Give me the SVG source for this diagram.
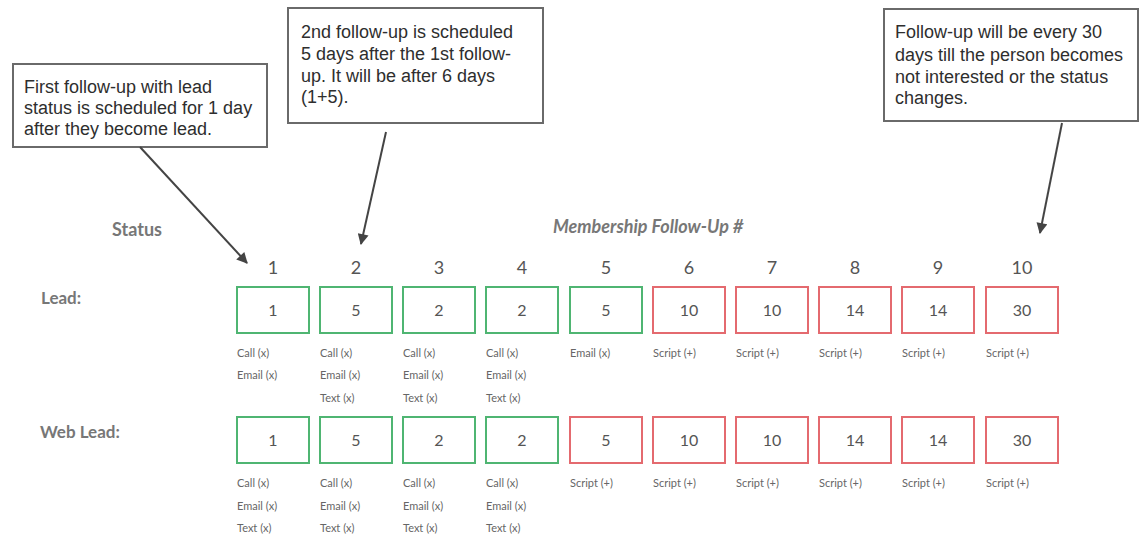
<svg xmlns="http://www.w3.org/2000/svg" width="1143" height="539" viewBox="0 0 1143 539">
<defs>
<marker id="ah" viewBox="0 0 10 10" refX="9" refY="5" markerWidth="13" markerHeight="11" markerUnits="userSpaceOnUse" orient="auto">
<path d="M0,0 L10,5 L0,10 z" fill="#444"/>
</marker>
<style>
.callout{fill:#fff;stroke:#6a6a6a;stroke-width:2}
.ct{font-family:"Liberation Sans",Arial,sans-serif;font-size:18px;fill:#2e2e2e}
.conn{stroke:#444;stroke-width:2;fill:none}
.hdr{font-family:Lato,"Open Sans",sans-serif;font-weight:bold;font-size:18px;fill:#777}
.row{font-family:Lato,"Open Sans",sans-serif;font-size:17px;fill:#777;font-weight:bold}
.col{font-family:Lato,"Open Sans",sans-serif;font-size:18px;fill:#555;text-anchor:middle}
.g{fill:#fff;stroke:#4fb572;stroke-width:2}
.r{fill:#fff;stroke:#e46a6f;stroke-width:2}
.num{font-family:Lato,"Open Sans",sans-serif;font-size:16px;fill:#555;text-anchor:middle}
.lbl{font-family:Lato,"Open Sans",sans-serif;font-size:11px;fill:#666}
</style>
</defs>
<rect width="1143" height="539" fill="#fff"/>

<g id="callout1">
<rect class="callout" x="13" y="64" width="254" height="83"/>
<text class="ct" x="24" y="93">First follow-up with lead</text>
<text class="ct" x="24" y="114">status is scheduled for 1 day</text>
<text class="ct" x="24" y="135">after they become lead.</text>
</g>
<g id="callout2">
<rect class="callout" x="288" y="8" width="255" height="115"/>
<text class="ct" x="301" y="38">2nd follow-up is scheduled</text>
<text class="ct" x="301" y="60">5 days after the 1st follow-</text>
<text class="ct" x="301" y="82">up. It will be after 6 days</text>
<text class="ct" x="301" y="103">(1+5).</text>
</g>
<g id="callout3">
<rect class="callout" x="884" y="9" width="254" height="112"/>
<text class="ct" x="895" y="38">Follow-up will be every 30</text>
<text class="ct" x="895" y="61">days till the person becomes</text>
<text class="ct" x="895" y="83">not interested or the status</text>
<text class="ct" x="895" y="104">changes.</text>
</g>

<g id="connectors">
<line class="conn" x1="140" y1="147" x2="247" y2="263" marker-end="url(#ah)"/>
<line class="conn" x1="386" y1="132" x2="361" y2="244" marker-end="url(#ah)"/>
<line class="conn" x1="1062" y1="123" x2="1040" y2="233" marker-end="url(#ah)"/>
</g>

<g id="headers">
<text class="hdr" x="112" y="236">Status</text>
<text class="hdr" x="553" y="233" font-style="italic">Membership Follow-Up #</text>
<text class="row" x="41" y="304">Lead:</text>
<text class="row" x="40" y="438">Web Lead:</text>
<text class="col" x="273" y="274">1</text>
<text class="col" x="356" y="274">2</text>
<text class="col" x="439" y="274">3</text>
<text class="col" x="522" y="274">4</text>
<text class="col" x="606" y="274">5</text>
<text class="col" x="689" y="274">6</text>
<text class="col" x="772" y="274">7</text>
<text class="col" x="855" y="274">8</text>
<text class="col" x="938" y="274">9</text>
<text class="col" x="1022" y="274">10</text>
</g>

<g id="lead-row">
<g id="lead-1"><rect class="g" x="237" y="287" width="72" height="46"/><text class="num" x="273" y="316">1</text>
<text class="lbl" x="237" y="357">Call (x)</text><text class="lbl" x="237" y="379">Email (x)</text></g>
<g id="lead-2"><rect class="g" x="320" y="287" width="72" height="46"/><text class="num" x="356" y="316">5</text>
<text class="lbl" x="320" y="357">Call (x)</text><text class="lbl" x="320" y="379">Email (x)</text><text class="lbl" x="320" y="402">Text (x)</text></g>
<g id="lead-3"><rect class="g" x="403" y="287" width="72" height="46"/><text class="num" x="439" y="316">2</text>
<text class="lbl" x="403" y="357">Call (x)</text><text class="lbl" x="403" y="379">Email (x)</text><text class="lbl" x="403" y="402">Text (x)</text></g>
<g id="lead-4"><rect class="g" x="486" y="287" width="72" height="46"/><text class="num" x="522" y="316">2</text>
<text class="lbl" x="486" y="357">Call (x)</text><text class="lbl" x="486" y="379">Email (x)</text><text class="lbl" x="486" y="402">Text (x)</text></g>
<g id="lead-5"><rect class="g" x="570" y="287" width="72" height="46"/><text class="num" x="606" y="316">5</text>
<text class="lbl" x="570" y="357">Email (x)</text></g>
<g id="lead-6"><rect class="r" x="653" y="287" width="72" height="46"/><text class="num" x="689" y="316">10</text>
<text class="lbl" x="653" y="357">Script (+)</text></g>
<g id="lead-7"><rect class="r" x="736" y="287" width="72" height="46"/><text class="num" x="772" y="316">10</text>
<text class="lbl" x="736" y="357">Script (+)</text></g>
<g id="lead-8"><rect class="r" x="819" y="287" width="72" height="46"/><text class="num" x="855" y="316">14</text>
<text class="lbl" x="819" y="357">Script (+)</text></g>
<g id="lead-9"><rect class="r" x="902" y="287" width="72" height="46"/><text class="num" x="938" y="316">14</text>
<text class="lbl" x="902" y="357">Script (+)</text></g>
<g id="lead-10"><rect class="r" x="986" y="287" width="72" height="46"/><text class="num" x="1022" y="316">30</text>
<text class="lbl" x="986" y="357">Script (+)</text></g>
</g>

<g id="weblead-row">
<g id="web-1"><rect class="g" x="237" y="417" width="72" height="46"/><text class="num" x="273" y="446">1</text>
<text class="lbl" x="237" y="487">Call (x)</text><text class="lbl" x="237" y="510">Email (x)</text><text class="lbl" x="237" y="532">Text (x)</text></g>
<g id="web-2"><rect class="g" x="320" y="417" width="72" height="46"/><text class="num" x="356" y="446">5</text>
<text class="lbl" x="320" y="487">Call (x)</text><text class="lbl" x="320" y="510">Email (x)</text><text class="lbl" x="320" y="532">Text (x)</text></g>
<g id="web-3"><rect class="g" x="403" y="417" width="72" height="46"/><text class="num" x="439" y="446">2</text>
<text class="lbl" x="403" y="487">Call (x)</text><text class="lbl" x="403" y="510">Email (x)</text><text class="lbl" x="403" y="532">Text (x)</text></g>
<g id="web-4"><rect class="g" x="486" y="417" width="72" height="46"/><text class="num" x="522" y="446">2</text>
<text class="lbl" x="486" y="487">Call (x)</text><text class="lbl" x="486" y="510">Email (x)</text><text class="lbl" x="486" y="532">Text (x)</text></g>
<g id="web-5"><rect class="r" x="570" y="417" width="72" height="46"/><text class="num" x="606" y="446">5</text>
<text class="lbl" x="570" y="487">Script (+)</text></g>
<g id="web-6"><rect class="r" x="653" y="417" width="72" height="46"/><text class="num" x="689" y="446">10</text>
<text class="lbl" x="653" y="487">Script (+)</text></g>
<g id="web-7"><rect class="r" x="736" y="417" width="72" height="46"/><text class="num" x="772" y="446">10</text>
<text class="lbl" x="736" y="487">Script (+)</text></g>
<g id="web-8"><rect class="r" x="819" y="417" width="72" height="46"/><text class="num" x="855" y="446">14</text>
<text class="lbl" x="819" y="487">Script (+)</text></g>
<g id="web-9"><rect class="r" x="902" y="417" width="72" height="46"/><text class="num" x="938" y="446">14</text>
<text class="lbl" x="902" y="487">Script (+)</text></g>
<g id="web-10"><rect class="r" x="986" y="417" width="72" height="46"/><text class="num" x="1022" y="446">30</text>
<text class="lbl" x="986" y="487">Script (+)</text></g>
</g>
</svg>
